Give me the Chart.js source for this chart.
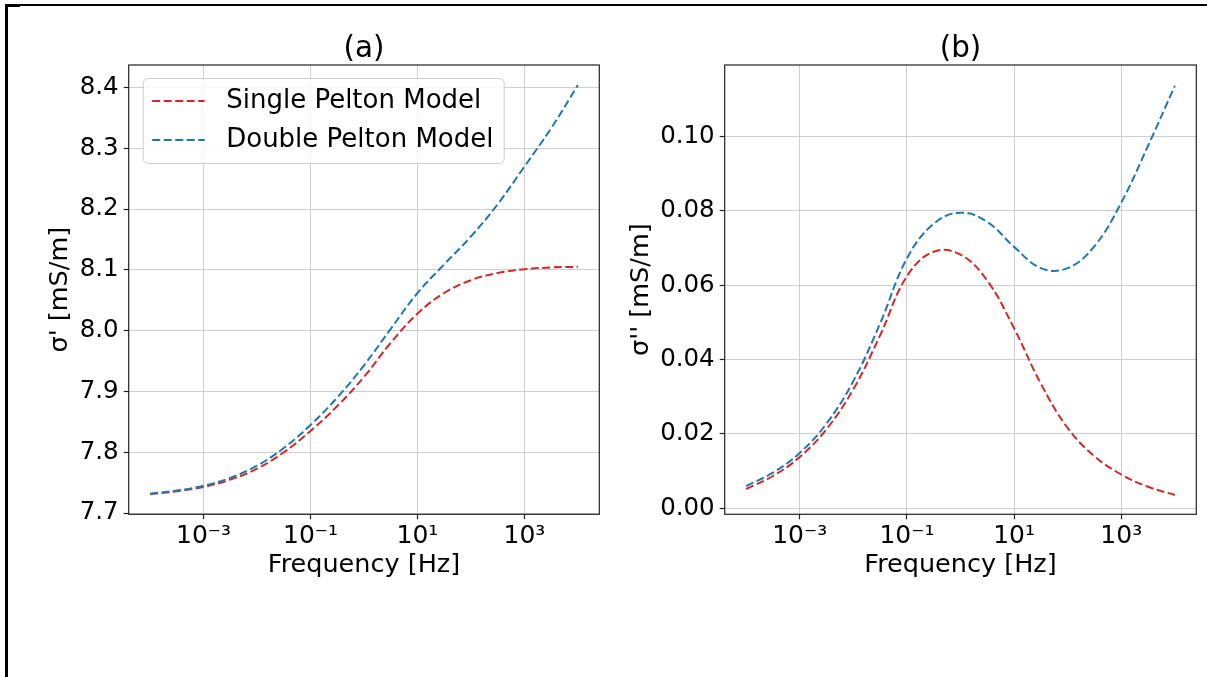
<!DOCTYPE html>
<html lang="en">
<head>
<meta charset="UTF-8">
<title>Pelton model conductivity spectra</title>
<script src="https://cdn.jsdelivr.net/npm/chart.js"></script>
<style>
  body { margin: 0; background: #fff; }
  #page { position: relative; width: 1207px; height: 677px; overflow: hidden; background: #fff; }
  .rule { position: absolute; background: #000; }
  #chartA { position: absolute; left: 0; top: 0; }
  #chartB { position: absolute; left: 620px; top: 0; }
</style>
</head>
<body>
<div id="page">
  <canvas id="chartA" width="620" height="610"></canvas>
  <canvas id="chartB" width="587" height="610"></canvas>
  <div class="rule" style="left:5px; top:4px; width:1202px; height:2px;"></div>
  <div class="rule" style="left:5px; top:4px; width:15px; height:3px;"></div>
  <div class="rule" style="left:5px; top:4px; width:3px; height:673px;"></div>
</div>
<script>
// frequency samples (Hz), half a decade apart
const FREQ_HZ = [1e-4, 3.16e-4, 1e-3, 3.16e-3, 1e-2, 3.16e-2, 0.1, 0.316, 1, 3.16, 10, 31.6, 100, 316, 1000, 3160, 10000];

// real part sigma' [mS/m]
const SINGLE_REAL = [7.731, 7.736, 7.743, 7.755, 7.773, 7.800, 7.835, 7.876, 7.924, 7.980, 8.028, 8.062, 8.083, 8.095, 8.101, 8.104, 8.105];
const DOUBLE_REAL = [7.732, 7.737, 7.745, 7.758, 7.778, 7.807, 7.845, 7.890, 7.943, 8.003, 8.062, 8.109, 8.155, 8.208, 8.270, 8.333, 8.404];

// imaginary part sigma'' [mS/m]
const SINGLE_IMAG = [0.0052, 0.0087, 0.0138, 0.0213, 0.0320, 0.0465, 0.0624, 0.0690, 0.0682, 0.0612, 0.0484, 0.0335, 0.0216, 0.0140, 0.0091, 0.0058, 0.0036];
const DOUBLE_IMAG = [0.0060, 0.0096, 0.0149, 0.0228, 0.0342, 0.0497, 0.0672, 0.0765, 0.0795, 0.0770, 0.0703, 0.0646, 0.0646, 0.0705, 0.0822, 0.0975, 0.1136];

const SERIES_NAMES = ['Single Pelton Model', 'Double Pelton Model'];

const X_TICKS = [1e-3, 1e-1, 1e1, 1e3];
const X_TICK_LABELS = ['10⁻³', '10⁻¹', '10¹', '10³'];
const REAL_TICKS = [7.7, 7.8, 7.9, 8.0, 8.1, 8.2, 8.3, 8.4];
const REAL_TICK_LABELS = ['7.7', '7.8', '7.9', '8.0', '8.1', '8.2', '8.3', '8.4'];
const IMAG_TICKS = [0, 0.02, 0.04, 0.06, 0.08, 0.10];
const IMAG_TICK_LABELS = ['0.00', '0.02', '0.04', '0.06', '0.08', '0.10'];

const RED = '#d62728';
const BLUE = '#1f77b4';
const FAMILY = 'DejaVu Sans';
const GRID = '#cfcfcf';
const INK = '#222';

function points(ys) {
    return FREQ_HZ.map((f, i) => ({ x: f, y: ys[i] }));
}

function series(label, ys, color, order) {
    return {
        label: label,
        data: points(ys),
        borderColor: color,
        backgroundColor: color,
        borderWidth: 2,
        borderDash: [8, 3.5],
        showLine: true,
        pointRadius: 0,
        tension: 0.4,
        fill: false,
        order: order
    };
}

// box around the plotting area
const axesFrame = {
    id: 'axesFrame',
    afterDraw(chart) {
        const { ctx, chartArea: a } = chart;
        ctx.save();
        ctx.strokeStyle = INK;
        ctx.lineWidth = 1.2;
        ctx.strokeRect(a.left, a.top, a.right - a.left, a.bottom - a.top);
        ctx.restore();
    }
};

// legend drawn inside the axes, upper left
const boxLegend = {
    id: 'boxLegend',
    afterDraw(chart, args, opts) {
        if (!opts.display) return;
        const { ctx, chartArea: a } = chart;
        const x = a.left + 14, y = a.top + 13, w = 361, h = 85;
        ctx.save();
        ctx.fillStyle = 'rgba(255,255,255,0.8)';
        ctx.strokeStyle = 'rgba(200,200,200,0.9)';
        ctx.lineWidth = 1;
        ctx.beginPath();
        ctx.roundRect(x + 0.5, y + 0.5, w, h, 5);
        ctx.fill();
        ctx.stroke();
        ctx.font = '26px "' + FAMILY + '"';
        ctx.textBaseline = 'middle';
        ctx.fillStyle = '#000';
        SERIES_NAMES.forEach((name, i) => {
            const ds = chart.data.datasets.find(d => d.label === name);
            const rowY = a.top + 36 + i * 39;
            ctx.strokeStyle = ds.borderColor;
            ctx.lineWidth = ds.borderWidth;
            ctx.setLineDash(ds.borderDash);
            ctx.beginPath();
            ctx.moveTo(a.left + 23.5, rowY);
            ctx.lineTo(a.left + 76, rowY);
            ctx.stroke();
            ctx.setLineDash([]);
            ctx.fillText(name, a.left + 97.5, rowY);
        });
        ctx.restore();
    }
};

function xScale() {
    return {
        type: 'logarithmic',
        min: Math.pow(10, -4.4),
        max: Math.pow(10, 4.4),
        afterBuildTicks: s => { s.ticks = X_TICKS.map(v => ({ value: v })); },
        afterFit: s => { s.height = 95.7; },
        ticks: {
            callback: v => X_TICK_LABELS[X_TICKS.indexOf(v)],
            font: { family: FAMILY, size: 25 },
            color: '#000',
            padding: 2,
            maxRotation: 0,
            autoSkip: false
        },
        grid: { color: GRID, lineWidth: 1, tickLength: 5, tickColor: INK, tickWidth: 1.2 },
        border: { display: false },
        title: {
            display: true,
            text: 'Frequency [Hz]',
            font: { family: FAMILY, size: 25.5 },
            color: '#000',
            padding: { top: 0, bottom: 29.7 }
        }
    };
}

function yScale(min, max, ticks, labels, width, text, pad) {
    return {
        min: min,
        max: max,
        afterBuildTicks: s => { s.ticks = ticks.map(v => ({ value: v })); },
        afterFit: s => { s.width = width; },
        ticks: {
            callback: v => labels[ticks.indexOf(v)],
            font: { family: FAMILY, size: 24.5 },
            color: '#000',
            padding: 5,
            autoSkip: false
        },
        grid: { color: GRID, lineWidth: 1, tickLength: 5, tickColor: INK, tickWidth: 1.2 },
        border: { display: false },
        title: {
            display: true,
            text: text,
            font: { family: FAMILY, size: 25.5 },
            color: '#000',
            padding: { top: pad, bottom: 0 }
        }
    };
}

function makeChart(id, title, single, double, y, padRight, legend) {
    return new Chart(document.getElementById(id), {
        type: 'scatter',
        data: {
            datasets: [
                series(SERIES_NAMES[0], single, RED, 1),
                series(SERIES_NAMES[1], double, BLUE, 0)
            ]
        },
        options: {
            responsive: false,
            animation: false,
            devicePixelRatio: 1,
            layout: { padding: { left: 0, right: padRight, top: 0, bottom: 0 } },
            scales: { x: xScale(), y: y },
            plugins: {
                legend: { display: false },
                tooltip: { enabled: false },
                boxLegend: { display: legend },
                title: {
                    display: true,
                    text: title,
                    fullSize: false,
                    color: '#000',
                    font: { family: FAMILY, size: 29.4, weight: 'normal', lineHeight: 1 },
                    padding: { top: 34.3, bottom: 1.3 }
                }
            }
        },
        plugins: [axesFrame, boxLegend]
    });
}

makeChart('chartA', '(a)', SINGLE_REAL, DOUBLE_REAL,
    yScale(7.698, 8.437, REAL_TICKS, REAL_TICK_LABELS, 128.7, "σ' [mS/m]", 44.7), 20.7, true);
makeChart('chartB', '(b)', SINGLE_IMAG, DOUBLE_IMAG,
    yScale(-0.0016, 0.1192, IMAG_TICKS, IMAG_TICK_LABELS, 104.7, "σ'' [mS/m]", 5.7), 10.7, false);
</script>
</body>
</html>
